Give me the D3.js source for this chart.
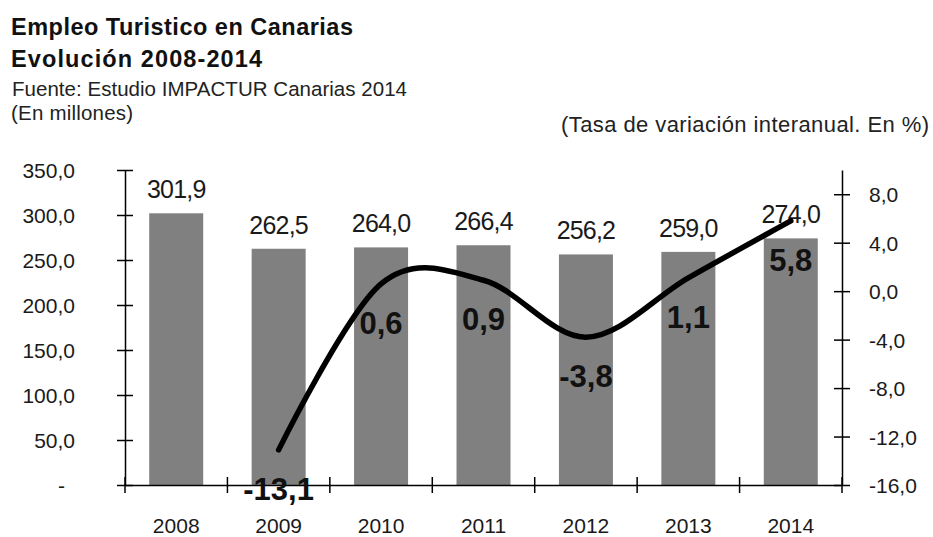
<!DOCTYPE html>
<html>
<head>
<meta charset="utf-8">
<script src="https://cdn.jsdelivr.net/npm/d3@7"></script>
<style>
  body { margin: 0; background: #fff; }
  text { font-family: "Liberation Sans", Arial, sans-serif; }
</style>
</head>
<body>
<div id="chart"></div>
<script>
var years = ["2008", "2009", "2010", "2011", "2012", "2013", "2014"];
var empleo = [301.9, 262.5, 264.0, 266.4, 256.2, 259.0, 274.0];
var tasa = [null, -13.1, 0.6, 0.9, -3.8, 1.1, 5.8];
var leftTicks = [0, 50, 100, 150, 200, 250, 300, 350];
var rightTicks = [-16, -12, -8, -4, 0, 4, 8];

var W = 933, H = 537;
var margin = {top: 170, right: 91, bottom: 52, left: 125};
var width = W - margin.left - margin.right,
    height = H - margin.top - margin.bottom;

var svg = d3.select("#chart")
    .append("svg")
    .attr("width", W)
    .attr("height", H);

// titles
function title(txt, xp, yp, size, bold, len) {
  return svg.append("text").attr("x", xp).attr("y", yp)
    .style("font-size", size + "px").style("font-weight", bold ? "bold" : "normal")
    .attr("fill", bold ? "#111" : "#222")
    .attr("textLength", len).attr("lengthAdjust", "spacing")
    .text(txt);
}
title("Empleo Turistico en Canarias", 11, 35, 23.5, true, 342);
title("Evolución 2008-2014", 11, 67, 23.5, true, 251);
title("Fuente: Estudio IMPACTUR Canarias 2014", 12, 96, 20.5, false, 395);
title("(En millones)", 11, 120, 20.5, false, 122);
title("(Tasa de variación interanual. En %)", 561, 132, 22, false, 368);

var g = svg.append("g")
    .attr("transform", "translate(" + margin.left + "," + margin.top + ")");

var x = d3.scaleBand().domain(years).range([0, width]);
var y = d3.scaleLinear().domain([0, 350]).range([height, 0]);
var y2 = d3.scaleLinear().domain([-16, 10]).range([height, 0]);
var barW = 54;

var fmt = function(v) { return d3.format(".1f")(v).replace(".", ",").replace("−", "-"); };

// bars
g.selectAll("rect.bar")
    .data(empleo)
    .enter().append("rect")
    .attr("class", "bar")
    .attr("x", function(d, i) { return x(years[i]) + x.bandwidth() / 2 - barW / 2; })
    .attr("width", barW)
    .attr("y", function(d) { return y(d); })
    .attr("height", function(d) { return height - y(d); })
    .attr("fill", "#808080");

g.selectAll("text.barlab")
    .data(empleo)
    .enter().append("text")
    .attr("class", "barlab")
    .attr("x", function(d, i) { return x(years[i]) + x.bandwidth() / 2; })
    .attr("y", function(d) { return y(d) - 15; })
    .attr("text-anchor", "middle")
    .style("font-size", "25px").style("letter-spacing", "-0.8px").attr("fill", "#1a1a1a")
    .text(fmt);

// axes
var leftAxis = d3.axisLeft(y).tickValues(leftTicks).tickSizeInner(8).tickSizeOuter(0)
    .tickFormat(function(d) { return d === 0 ? "-" : fmt(d); });
var ga = g.append("g").call(leftAxis);

var rightAxis = d3.axisRight(y2).tickValues(rightTicks).tickSizeInner(8).tickSizeOuter(0)
    .tickFormat(fmt);
var gr = g.append("g").attr("transform", "translate(" + width + ",0)").call(rightAxis);

var bottomAxis = d3.axisBottom(x).tickSize(0).tickSizeOuter(0);
var gb = g.append("g").attr("transform", "translate(0," + height + ")").call(bottomAxis);

// category boundary ticks
g.append("g").selectAll("line")
    .data(d3.range(years.length + 1))
    .enter().append("line")
    .attr("x1", function(d) { return d * x.step(); })
    .attr("x2", function(d) { return d * x.step(); })
    .attr("y1", height - 8).attr("y2", height + 8)
    .attr("stroke", "#000").attr("stroke-width", 1.5);

[ga, gr, gb].forEach(function(a) {
  a.selectAll(".domain").attr("stroke", "#000").attr("stroke-width", 1.5);
  a.selectAll(".tick line").attr("stroke", "#000").attr("stroke-width", 1.5)
    .attr("x1", -8).attr("x2", 8);
  a.selectAll(".tick text").style("font-size", "21px")
    .attr("fill", "#1a1a1a").style("font-family", "Liberation Sans, Arial, sans-serif");
});
gb.selectAll(".tick line").remove();
ga.selectAll(".tick text").attr("x", -50).attr("dy", "0.36em");
ga.selectAll(".tick text").filter(function(d) { return d === 0; }).attr("x", -60);
gr.selectAll(".tick text").attr("x", 27).attr("dy", "0.36em");
gb.selectAll(".tick text").attr("y", 48).attr("dy", 0);

// line
var pts = [];
tasa.forEach(function(v, i) { if (v !== null) pts.push({year: years[i], v: v}); });

var line = d3.line()
    .x(function(d) { return x(d.year) + x.bandwidth() / 2; })
    .y(function(d) { return y2(d.v); })
    .curve(d3.curveCardinal.tension(0));

g.append("path")
    .datum(pts)
    .attr("fill", "none")
    .attr("stroke", "#000")
    .attr("stroke-width", 5.5)
    .attr("stroke-linecap", "round")
    .attr("d", line);

g.selectAll("text.linelab")
    .data(pts)
    .enter().append("text")
    .attr("class", "linelab")
    .attr("x", function(d) { return x(d.year) + x.bandwidth() / 2; })
    .attr("y", function(d) { return y2(d.v) + 50; })
    .attr("text-anchor", "middle")
    .style("font-size", "31px").style("font-weight", "bold")
    .attr("fill", "#111")
    .text(function(d) { return fmt(d.v); });
</script>
</body>
</html>
